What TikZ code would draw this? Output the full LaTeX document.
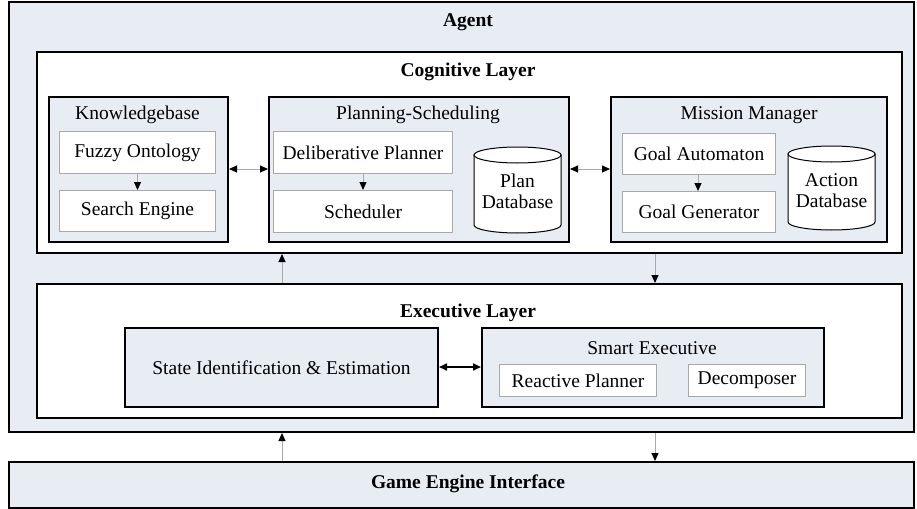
\documentclass[tikz,border=0pt]{standalone}
\usepackage{fontspec}
\setmainfont{Liberation Serif}
\usetikzlibrary{arrows.meta}
\definecolor{bgc}{HTML}{E8ECF3}
\definecolor{thin}{HTML}{A8A8A8}
\tikzset{
  outerbox/.style={draw=black, line width=2pt, fill=bgc, anchor=north west, inner sep=0pt},
  layerbox/.style={draw=black, line width=2pt, fill=white, anchor=north west, inner sep=0pt},
  innerbox/.style={draw=thin, line width=1pt, fill=white, anchor=north west, inner sep=0pt, font=\fontsize{19.5}{22}\selectfont},
  ttl/.style={font=\fontsize{19.5}{22}\selectfont\bfseries, inner sep=0pt},
  lbl/.style={font=\fontsize{19.5}{22}\selectfont, inner sep=0pt, align=center},
  conn/.style={draw=thin, line width=1pt, -{Triangle[length=8pt,width=7pt,color=black]}},
  bconn/.style={draw=thin, line width=1pt, {Triangle[length=8pt,width=7pt,color=black]}-{Triangle[length=8pt,width=7pt,color=black]}},
  sconn/.style={draw=black, line width=1.6pt, {Triangle[length=8pt,width=7pt]}-{Triangle[length=8pt,width=7pt]}},
  db/.style={draw=black, line width=1pt, fill=white}
}
\begin{document}
\begin{tikzpicture}[x=1pt,y=-1pt]
\useasboundingbox (0,0) rectangle (917,508);
% outer frames
\node[outerbox, minimum width=905pt, minimum height=430pt] (agent) at (8,1) {};
\node[ttl] (agentT) at (468,22) {Agent};
\node[layerbox, minimum width=865pt, minimum height=201pt] (cog) at (36,51) {};
\node[ttl] (cogT) at (468,72) {Cognitive Layer};
\node[layerbox, minimum width=865pt, minimum height=134pt] (exec) at (36,283) {};
\node[ttl] (execT) at (468,313) {Executive Layer};
\node[outerbox, minimum width=905pt, minimum height=46pt] (game) at (8,461) {};
\node[ttl] (gameT) at (468,484) {Game Engine Interface};
% cognitive groups
\node[outerbox, minimum width=179pt, minimum height=145pt] (kb) at (48,96) {};
\node[lbl] (kbT) at (137.5,115) {Knowledgebase};
\node[outerbox, minimum width=300pt, minimum height=145pt] (ps) at (268,96) {};
\node[lbl] (psT) at (418,115) {Planning-Scheduling};
\node[outerbox, minimum width=276pt, minimum height=145pt] (mm) at (610,96) {};
\node[lbl] (mmT) at (749,115) {Mission Manager};
% inner boxes
\node[innerbox, minimum width=156pt, minimum height=42pt] (fuzzy) at (59,131) {Fuzzy Ontology};
\node[innerbox, minimum width=156pt, minimum height=41pt] (search) at (59,190) {Search Engine};
\node[innerbox, minimum width=179pt, minimum height=42pt] (delib) at (273,131) {Deliberative Planner};
\node[innerbox, minimum width=179pt, minimum height=42pt] (sched) at (273,190) {Scheduler};
\node[innerbox, minimum width=153pt, minimum height=41pt] (goalA) at (622,133) {Goal Automaton};
\node[innerbox, minimum width=153pt, minimum height=41pt] (goalG) at (622,191) {Goal Generator};
% databases
\draw[db] (474,155) -- (474,225) arc[start angle=180, end angle=0, x radius=43.5, y radius=8] -- (561,155) -- cycle;
\draw[db] (517.5,155) ellipse[x radius=43.5, y radius=8];
\node[lbl] (planDB) at (517.5,191) {Plan\\[-1pt]Database};
\draw[db] (788,154) -- (788,222) arc[start angle=180, end angle=0, x radius=43.5, y radius=8] -- (875,154) -- cycle;
\draw[db] (831.5,154) ellipse[x radius=43.5, y radius=8];
\node[lbl] (actDB) at (831.5,191) {Action\\[-1pt]Database};
% executive
\node[outerbox, minimum width=313pt, minimum height=79pt, font=\fontsize{19.5}{22}\selectfont] (state) at (124,327) {State Identification \& Estimation};
\node[outerbox, minimum width=342pt, minimum height=79pt] (smart) at (481,327) {};
\node[lbl] (smartT) at (652,348) {Smart Executive};
\node[innerbox, minimum width=157pt, minimum height=32pt] (react) at (499,364) {Reactive Planner};
\node[innerbox, minimum width=117pt, minimum height=32pt] (decomp) at (688,364) {Decomposer};
% connectors
\coordinate (ua) at (282,0);
\coordinate (da) at (655,0);
\coordinate (hy) at (0,169);
\draw[conn] (fuzzy) -- (search);
\draw[conn] (delib) -- (sched);
\draw[conn] (goalA.south -| 698,0) -- (goalG.north -| 698,0);
\draw[bconn] (kb.east |- hy) -- (ps.west |- hy);
\draw[bconn] (ps.east |- hy) -- (mm.west |- hy);
\draw[conn] (exec.north -| ua) -- (cog.south -| ua);
\draw[conn] (cog.south -| da) -- (exec.north -| da);
\draw[conn] (game.north -| ua) -- (agent.south -| ua);
\draw[conn] (agent.south -| da) -- (game.north -| da);
\draw[sconn] (state.east |- 0,367) -- (smart.west |- 0,367);
\end{tikzpicture}
\end{document}
